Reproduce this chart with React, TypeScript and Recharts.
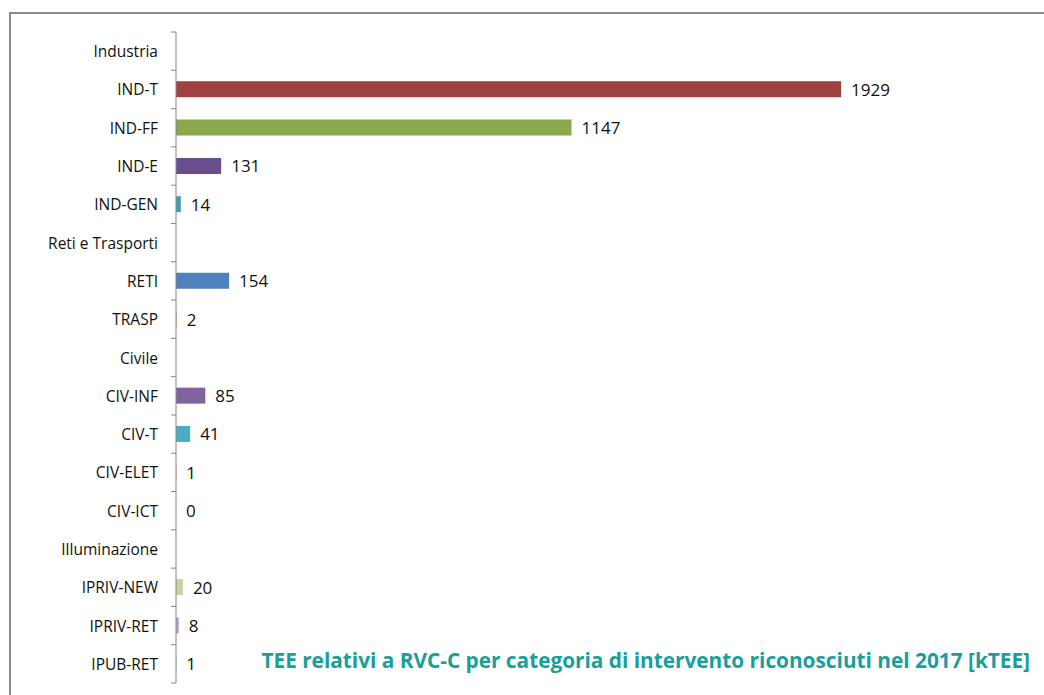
import React from "react";
import { BarChart, Bar, XAxis, YAxis, Cell, LabelList } from "recharts";

const categories = [
  "Industria", "IND-T", "IND-FF", "IND-E", "IND-GEN",
  "Reti e Trasporti", "RETI", "TRASP",
  "Civile", "CIV-INF", "CIV-T", "CIV-ELET", "CIV-ICT",
  "Illuminazione", "IPRIV-NEW", "IPRIV-RET", "IPUB-RET",
];
const values: (number | null)[] = [
  null, 1929, 1147, 131, 14,
  null, 154, 2,
  null, 85, 41, 1, 0,
  null, 20, 8, 1,
];
const barColors = [
  "#ffffff", "#9e4141", "#8aa84d", "#6a4d8c", "#3f9fb8",
  "#ffffff", "#4f81bd", "#f79646",
  "#ffffff", "#8064a2", "#4bacc6", "#f79646", "#4f81bd",
  "#ffffff", "#c3d69b", "#b3a2c7", "#93cddd",
];

const title = "TEE relativi a RVC-C per categoria di intervento riconosciuti nel 2017 [kTEE]";

const W = 1044;
const H = 695;
const TOP = 32;
const BOTTOM = 12;
const BAND = (H - TOP - BOTTOM) / categories.length;
const FONT = "'Open Sans', 'Noto Sans', sans-serif";

const data = categories.map((name, i) => ({ name, value: values[i], color: barColors[i] }));

// tick marks sit between the categories, like the Excel original
const CategoryTick = (props: any) => {
  const { x, y, payload, index } = props;
  const last = index === categories.length - 1;
  return (
    <g>
      <line x1={x - 5} x2={x} y1={y - BAND / 2} y2={y - BAND / 2} stroke="#868686" />
      {last && <line x1={x - 5} x2={x} y1={y + BAND / 2} y2={y + BAND / 2} stroke="#868686" />}
      <text x={x - 18} y={y} textAnchor="end" dominantBaseline="central" fontSize={15.5} fill="#111" fontFamily={FONT}>
        {payload.value}
      </text>
    </g>
  );
};

const ValueLabel = (props: any) => {
  const { x, y, width, height, value } = props;
  if (value === null || value === undefined) return null;
  return (
    <text x={x + width + 10} y={y + height / 2} dominantBaseline="central" fontSize={17} fill="#111" fontFamily={FONT}>
      {value}
    </text>
  );
};

const App: React.FC = () => {
  return (
    <div style={{ position: "relative", width: W, height: H, overflow: "hidden", background: "#fff" }}>
      <style>{`body{margin:0;overflow:hidden}`}</style>
      <div
        style={{
          position: "absolute",
          left: 9,
          top: 12,
          width: W + 20,
          height: H + 20,
          borderLeft: "2px solid #8c8c8c",
          borderTop: "2px solid #8c8c8c",
        }}
      />
      <div style={{ position: "absolute", left: 0, top: 0 }}>
        <BarChart
          width={W}
          height={H}
          data={data}
          layout="vertical"
          margin={{ top: TOP, right: 6, bottom: BOTTOM, left: 0 }}
        >
          <XAxis type="number" domain={[0, 2500]} hide />
          <YAxis
            type="category"
            dataKey="name"
            width={176}
            axisLine={{ stroke: "#868686" }}
            tickLine={false}
            tickSize={0}
            tickMargin={0}
            interval={0}
            tick={<CategoryTick />}
          />
          <Bar
            dataKey="value"
            barSize={16}
            minPointSize={(v: any) => (v === 0 ? 0.01 : 0)}
            isAnimationActive={false}
          >
            {data.map((d, i) => (
              <Cell key={`cell-${i}`} fill={d.color} />
            ))}
            <LabelList dataKey="value" content={<ValueLabel />} />
          </Bar>
        </BarChart>
      </div>
      <div
        style={{
          position: "absolute",
          right: 14,
          top: 645,
          fontFamily: FONT,
          fontWeight: 700,
          fontSize: 20.8,
          color: "#17a09a",
          whiteSpace: "nowrap",
          lineHeight: "30px",
        }}
      >
        {title}
      </div>
    </div>
  );
};

export default App;
